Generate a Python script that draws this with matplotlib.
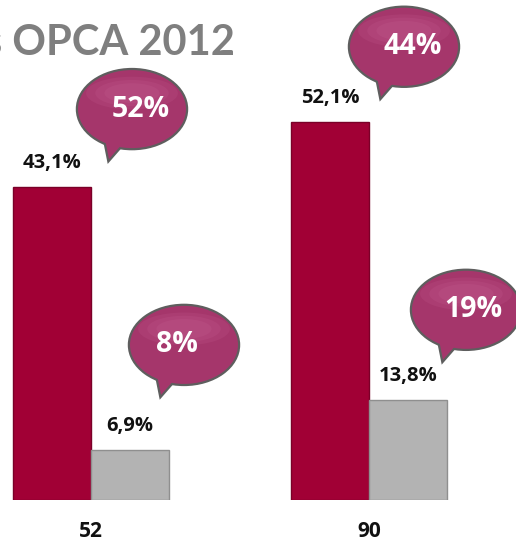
import matplotlib
matplotlib.use("Agg")
import matplotlib.pyplot as plt
import matplotlib.transforms as mtransforms
from matplotlib.patches import Ellipse, Polygon

plt.rcParams['font.family'] = ['Open Sans', 'DejaVu Sans']

# data
categories = ["52", "90"]
red_values = [43.1, 52.1]
gray_values = [6.9, 13.8]
red_bubbles = ["52%", "44%"]
gray_bubbles = ["8%", "19%"]
title = "s OPCA 2012"

red_color = "#a10035"
gray_color = "#b3b3b3"
bubble_color = "#a5366b"
bubble_edge = "#5e5e5e"

fig = plt.figure(figsize=(5.16, 5.41), dpi=100)
ax = fig.add_axes([0, 41 / 541, 1, 500 / 541])
ax.set_xlim(-91 / 278, 425 / 278)
ax.set_ylim(0, 500 / 7.26)
for s in ax.spines.values():
    s.set_visible(False)
ax.set_yticks([])

w = 78 / 278
x = range(len(categories))
xr = [i - w / 2 for i in x]
xg = [i + w / 2 for i in x]
ax.bar(xr, red_values, width=w, color=red_color, edgecolor="#7a0028", linewidth=1)
ax.bar(xg, gray_values, width=w, color=gray_color, edgecolor="#8f8f8f", linewidth=1)

ax.set_xticks(list(x))
ax.set_xticklabels(categories, fontsize=15, fontweight="bold", color="#111111")
ax.tick_params(axis="x", length=0, pad=15)

def fmt(v):
    return f"{v:.1f}".replace(".", ",") + "%"

for xi, v in zip(xr + xg, red_values + gray_values):
    ax.annotate(fmt(v), (xi, v), xytext=(0, 17), textcoords="offset points",
                ha="center", va="center", fontsize=14.5, fontweight="bold", color="#111111")

# speech bubbles: offsets from bar top in inches
def bubble(xb, yb, label, dx, dy, tdx):
    trans = fig.dpi_scale_trans + mtransforms.ScaledTranslation(xb, yb, ax.transData)
    ew, eh = 1.08, 0.78
    tail = [(dx - 0.27, dy - 0.30), (dx - 0.23, dy - 0.50), (dx - 0.09, dy - 0.34)]
    # outline pass then fill pass
    for lw, fc, ec, z in [(3.2, bubble_edge, bubble_edge, 5), (0, bubble_color, bubble_color, 6)]:
        ax.add_patch(Ellipse((dx, dy), ew, eh, transform=trans, facecolor=fc,
                             edgecolor=ec, linewidth=lw, zorder=z, clip_on=False))
        ax.add_patch(Polygon(tail, closed=True, transform=trans, facecolor=fc,
                             edgecolor=ec, linewidth=lw, zorder=z, clip_on=False))
    # soft shine on top
    for k, a in [(1.0, 0.10), (0.8, 0.10), (0.6, 0.10)]:
        ax.add_patch(Ellipse((dx, dy + 0.16), ew * 0.85 * k, eh * 0.42 * k, transform=trans,
                             facecolor="#e080b0", edgecolor="none", alpha=a, zorder=7,
                             clip_on=False))
    ax.text(dx + tdx, dy, label, transform=trans, ha="center", va="center",
            fontsize=20.5, fontweight="bold", color="white", zorder=8, clip_on=False)

red_offsets = [(0.80, 0.78, 0.09), (0.74, 0.75, 0.09)]
gray_offsets = [(0.54, 1.05, -0.07), (0.58, 0.90, 0.07)]
for xi, v, lab, (dx, dy, tdx) in zip(xr, red_values, red_bubbles, red_offsets):
    bubble(xi, v, lab, dx, dy, tdx)
for xi, v, lab, (dx, dy, tdx) in zip(xg, gray_values, gray_bubbles, gray_offsets):
    bubble(xi, v, lab, dx, dy, tdx)

fig.text(235 / 516, 1 - 55 / 541, title, ha="right", va="baseline",
         fontsize=30, fontweight="bold", color="#7f7f7f", family=["Lato", "DejaVu Sans"])

fig.savefig("out.png", dpi=100)
